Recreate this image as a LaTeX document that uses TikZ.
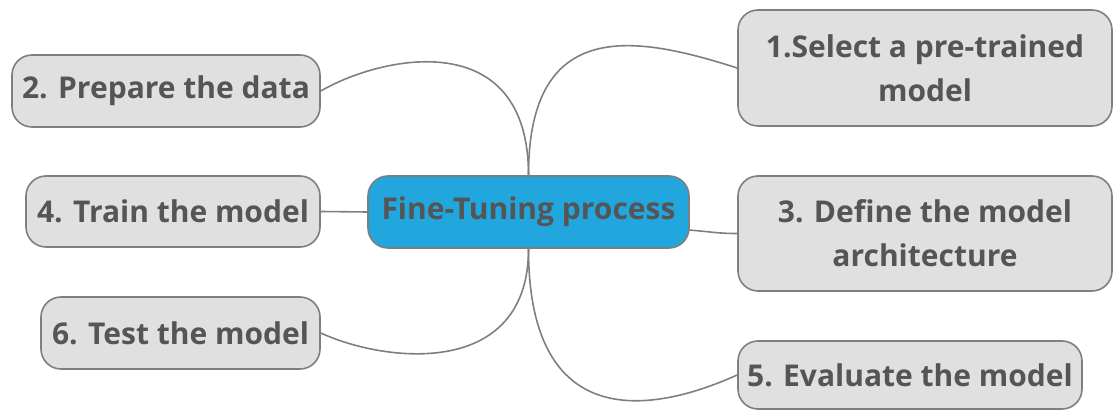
\documentclass[tikz,border=0pt]{standalone}
\usepackage{fontspec}
\setmainfont{Open Sans}
\usetikzlibrary{calc}

\definecolor{txtgray}{HTML}{555555}
\definecolor{boxgray}{HTML}{E0E0E0}
\definecolor{edgegray}{HTML}{7F7F7F}
\definecolor{hubblue}{HTML}{21A6DE}

\tikzset{
  step box/.style={draw=edgegray, line width=1.6pt, fill=boxgray, rounded corners=20pt,
    text=txtgray, font=\fontsize{30}{44}\selectfont\bfseries, align=center, inner sep=0pt},
  hub box/.style={step box, fill=hubblue},
  link/.style={draw=edgegray, line width=1.6pt}
}

\begin{document}
\begin{tikzpicture}[x=1pt, y=-1pt]
  \useasboundingbox (0,0) rectangle (1116,411);

  %centre
  \node[hub box, minimum width=321pt, minimum height=72pt] (c) at (528.5,212) {Fine-Tuning process};

  %right side
  \node[step box, minimum width=374pt, minimum height=116pt] (e1) at (925,68) {1.Select a pre-trained\\model};
  \node[step box, minimum width=374pt, minimum height=115pt] (e3) at (925,233.5) {3. Define the model\\architecture};
  \node[step box, minimum width=344pt, minimum height=68pt] (e5) at (910,375) {5. Evaluate the model};

  %left side
  \node[step box, minimum width=308pt, minimum height=72pt] (e2) at (166,91) {2. Prepare the data};
  \node[step box, minimum width=294pt, minimum height=71pt] (e4) at (173,211.5) {4. Train the model};
  \node[step box, minimum width=279pt, minimum height=72pt] (e6) at (180.5,333) {6. Test the model};

  %links
  \draw[link] (c.north) .. controls +(0,-160) and +(-100,-32) .. (e1.west);
  \draw[link] (c.north) .. controls +(0,-150) and +(62,-36) .. (e2.east);
  \draw[link] ($(c.east)+(-1,18)$) .. controls +(25,2) and +(-20,0) .. (e3.west);
  \draw[link] (e4.east) -- (c.west);
  \draw[link] (c.south) .. controls +(0,175) and +(-98,44) .. (e5.west);
  \draw[link] (c.south) .. controls +(0,130) and +(65,30) .. (e6.east);
\end{tikzpicture}
\end{document}
